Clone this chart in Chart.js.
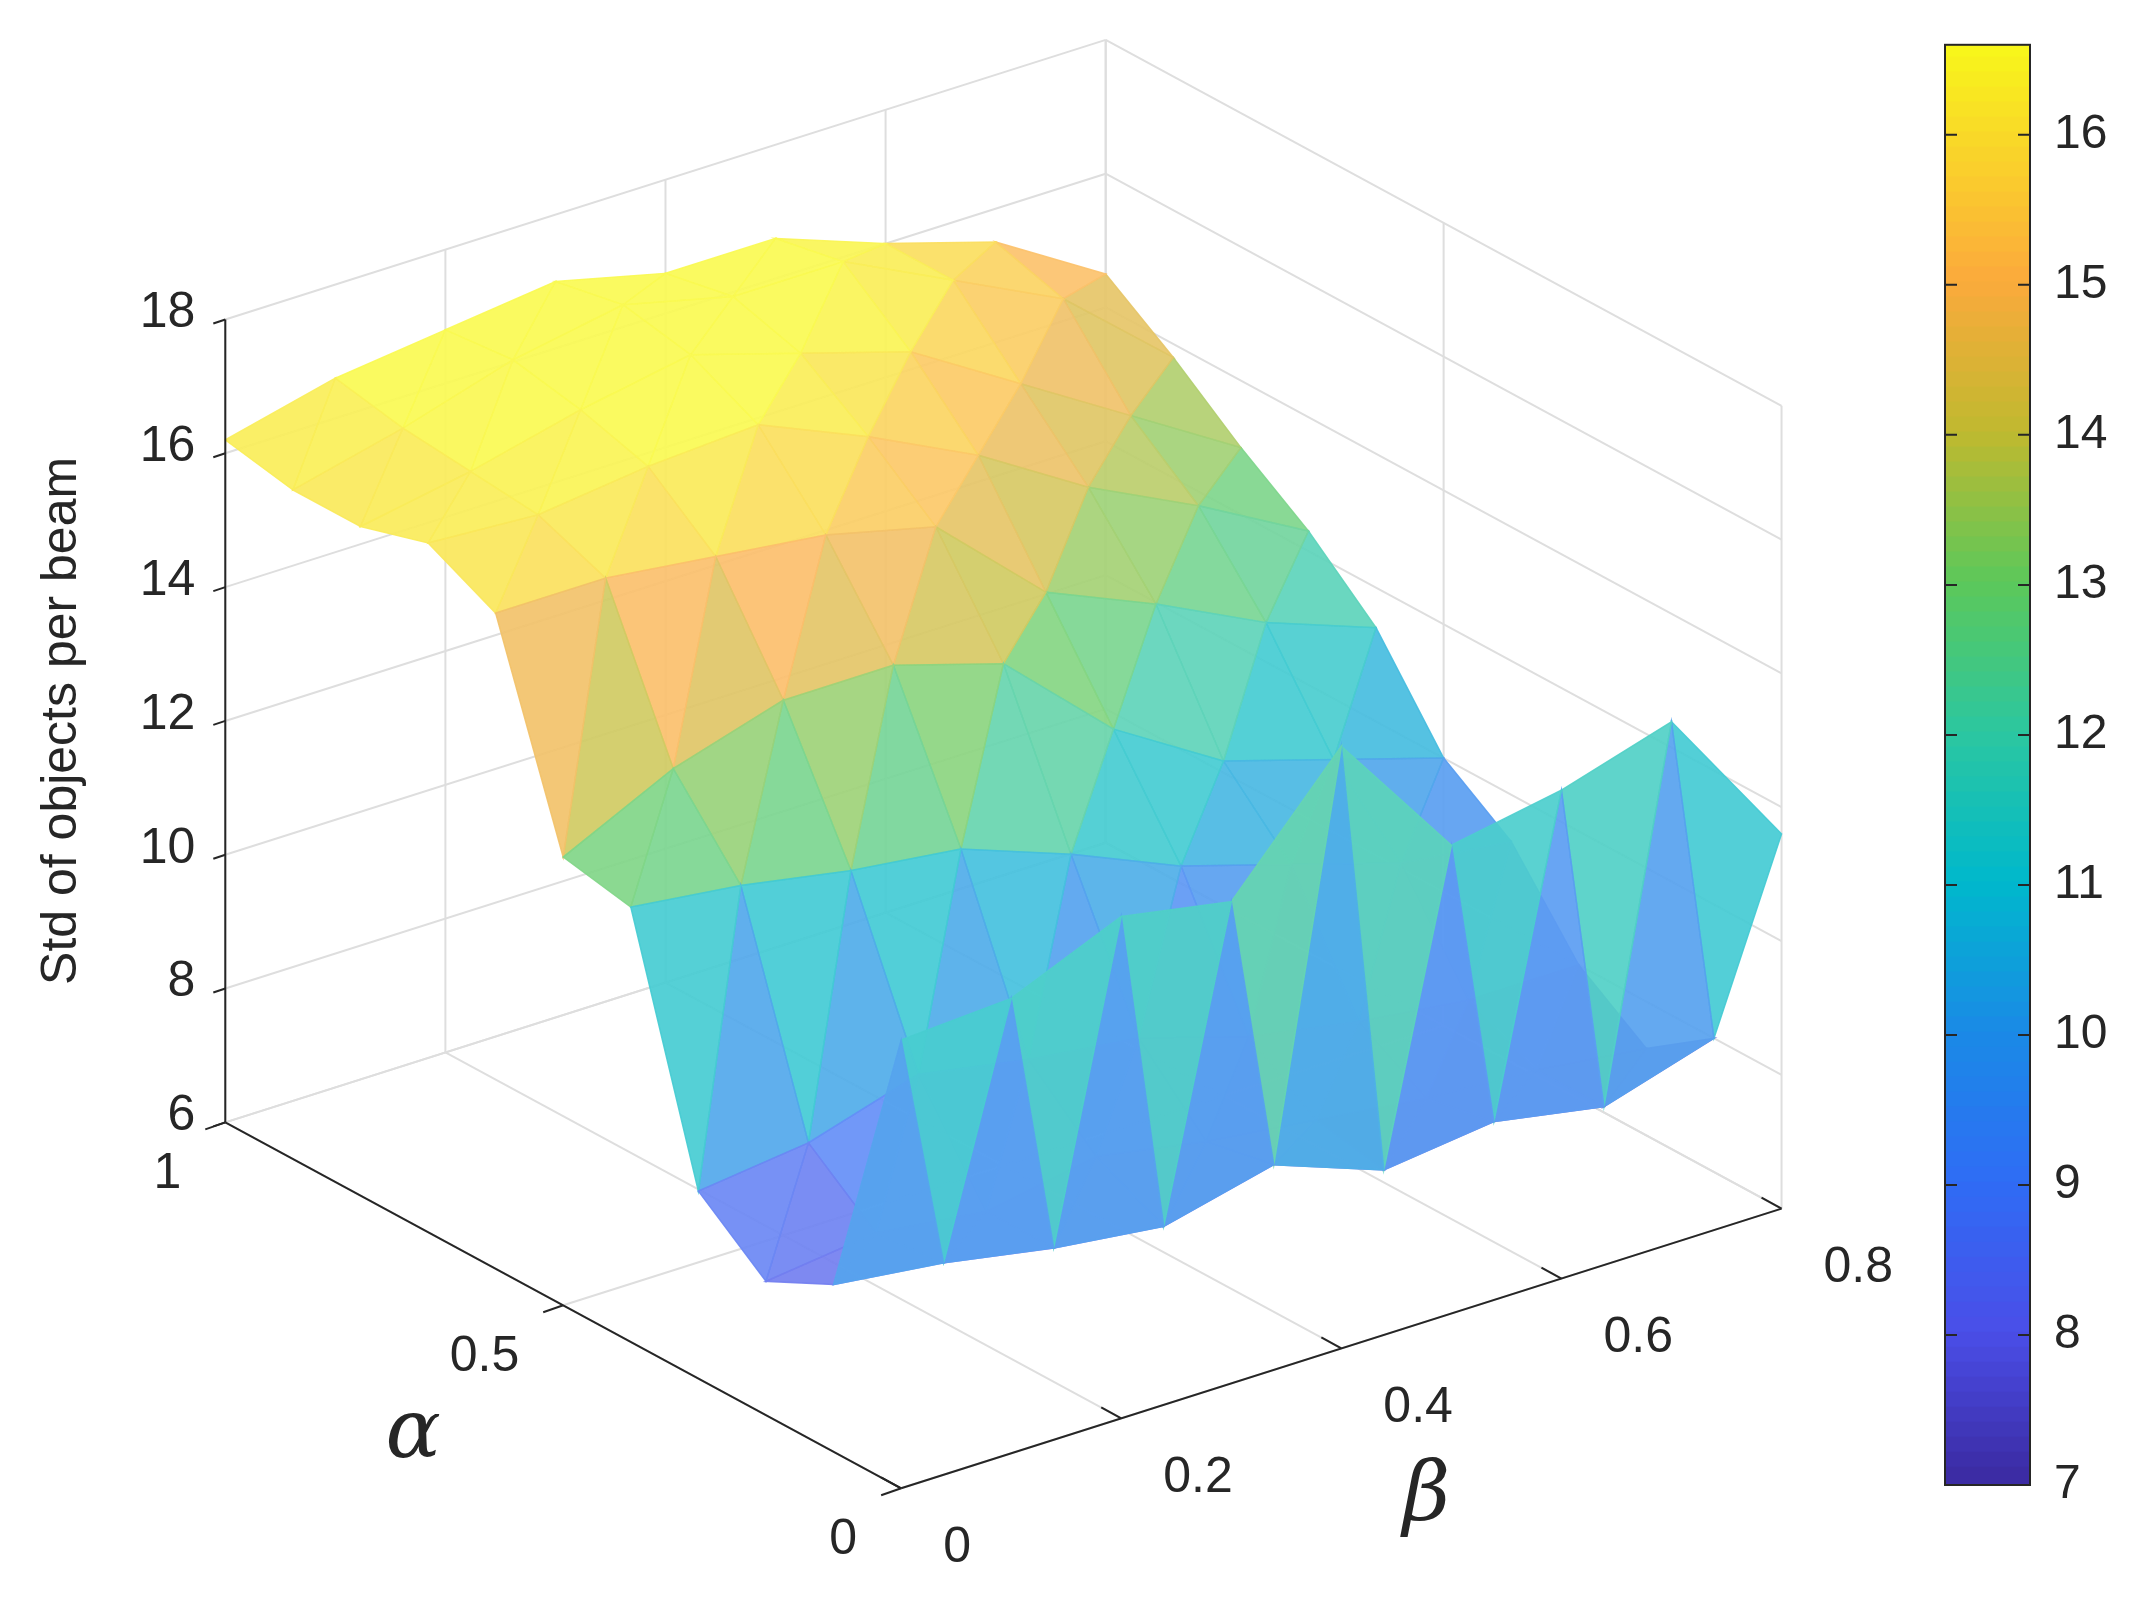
<!DOCTYPE html>
<html>
<head>
<meta charset="utf-8">
<script src="https://cdn.jsdelivr.net/npm/chart.js@4/dist/chart.umd.min.js"></script>
<style>
  body { margin:0; background:#fff; }
  #wrap { position:relative; width:2130px; height:1602px; }
  #main { position:absolute; left:0; top:0; }
  #cbar { position:absolute; left:1880px; top:0; }
</style>
</head>
<body>
<div id="wrap">
  <canvas id="main" width="2130" height="1602"></canvas>
  <canvas id="cbar" width="250" height="1602"></canvas>
</div>
<script>
/* data */
var alphaVals = [0, 0.1, 0.2, 0.3, 0.4, 0.5, 0.6, 0.7, 0.8, 0.9, 1.0];
var betaVals  = [0, 0.1, 0.2, 0.3, 0.4, 0.5, 0.6, 0.7, 0.8];
var zA00 = [12.7, 12.8, 13.5, 13.2, 15.0, 13.0, 13.3, 13.8, 11.6];
var zA01 = [8.5, 8.3, 8.0, 7.8, 8.2, 7.6, 7.8, 7.5, 8.0];
var zA02 = [8.0, 8.2, 8.0, 8.3, 8.0, 7.8, 7.6, 7.5, 7.3];
var zA03 = [8.8, 9.0, 9.5, 9.2, 9.0, 8.5, 8.2, 8.0, 8.0];
var zA04 = [12.5, 12.3, 12.0, 11.8, 11.2, 10.5, 10.0, 9.5, 9.3];
var zA05 = [12.7, 13.5, 14.0, 14.0, 13.5, 12.0, 11.0, 10.5, 10.0];
var zA06 = [15.8, 15.8, 15.6, 15.4, 15.0, 13.5, 12.8, 12.0, 11.4];
var zA07 = [16.3, 16.2, 16.4, 16.5, 15.8, 15.0, 14.0, 13.2, 12.3];
var zA08 = [16.0, 16.3, 16.7, 17.0, 16.5, 16.0, 15.0, 14.0, 13.0];
var zA09 = [16.0, 16.4, 16.9, 17.2, 16.8, 16.8, 16.0, 15.2, 13.8];
var zA10 = [16.2, 16.6, 16.8, 17.0, 16.6, 16.6, 16.0, 15.5, 14.5];
var zRows = [zA00, zA01, zA02, zA03, zA04, zA05, zA06, zA07, zA08, zA09, zA10];
var zTicks = [6, 8, 10, 12, 14, 16, 18];
var alphaTicks = [0, 0.5, 1];
var betaTicks = [0, 0.2, 0.4, 0.6, 0.8];
var cbTicks = [7, 8, 9, 10, 11, 12, 13, 14, 15, 16];
var cbMin = 7, cbMax = 16.6;

/* view */
var S = 2130 / 1560;
var view = { ox:660*S, oy:1090*S, ax:-495*S, ay:-268*S, bx:806*S, by:-256*S, zy:-49*S, z0:6, z1:18, bMax:0.8 };
function proj(a, b, z){
  return { x: view.ox + a*view.ax + b*view.bx, y: view.oy + a*view.ay + b*view.by + (z - view.z0)*view.zy };
}

var stops = [
  [7, [59,42,160]], [8, [74,78,232]], [9, [47,108,245]], [10, [26,138,230]],
  [11, [0,184,204]], [12, [44,199,160]], [13, [92,200,90]], [14, [192,185,47]],
  [15, [251,170,60]], [16.6, [248,248,26]]
];
function cmap(z, light){
  z = Math.max(cbMin, Math.min(cbMax, z));
  var c = stops[stops.length-1][1];
  for (var i = 0; i < stops.length-1; i++){
    if (z <= stops[i+1][0]){
      var t = (z - stops[i][0]) / (stops[i+1][0] - stops[i][0]);
      c = stops[i][1].map(function(v, k){ return v + t*(stops[i+1][1][k] - v); });
      break;
    }
  }
  var l = light || 0;
  return 'rgb(' + c.map(function(v){ return Math.round(v + (255 - v)*l); }).join(',') + ')';
}

/* surface plugin, everything through the chart scales */
var surfacePlugin = {
  id: 'surface',
  beforeDatasetsDraw: function(chart){
    var ctx = chart.ctx, xs = chart.scales.x, ys = chart.scales.y;
    function P(a, b, z){ var p = proj(a, b, z); return [xs.getPixelForValue(p.x), ys.getPixelForValue(p.y)]; }
    function line(p, q, col, w){
      ctx.beginPath(); ctx.moveTo(p[0], p[1]); ctx.lineTo(q[0], q[1]);
      ctx.strokeStyle = col; ctx.lineWidth = w; ctx.stroke();
    }
    ctx.save();
    var g = '#dedede';
    // back walls + floor grid
    zTicks.forEach(function(z){
      line(P(1, 0, z), P(1, view.bMax, z), g, 2);
      line(P(1, view.bMax, z), P(0, view.bMax, z), g, 2);
    });
    betaTicks.forEach(function(b){
      line(P(1, b, view.z0), P(1, b, view.z1), g, 2);
      line(P(0, b, view.z0), P(1, b, view.z0), g, 2);
    });
    alphaTicks.forEach(function(a){
      line(P(a, view.bMax, view.z0), P(a, view.bMax, view.z1), g, 2);
      line(P(a, 0, view.z0), P(a, view.bMax, view.z0), g, 2);
    });

    // surface triangles, far to near
    var tris = [];
    for (var i = 0; i < alphaVals.length-1; i++){
      for (var j = 0; j < betaVals.length-1; j++){
        var v00 = [alphaVals[i], betaVals[j], zRows[i][j]];
        var v01 = [alphaVals[i], betaVals[j+1], zRows[i][j+1]];
        var v10 = [alphaVals[i+1], betaVals[j], zRows[i+1][j]];
        var v11 = [alphaVals[i+1], betaVals[j+1], zRows[i+1][j+1]];
        tris.push([v00, v01, v11], [v00, v11, v10]);
      }
    }
    tris.forEach(function(t){
      t.depth = t.reduce(function(s, v){ return s + v[0] + v[1]/view.bMax; }, 0) / 3;
      t.zm = (t[0][2] + t[1][2] + t[2][2]) / 3;
    });
    tris.sort(function(p, q){ return q.depth - p.depth; });
    tris.forEach(function(t){
      ctx.beginPath();
      t.forEach(function(v, k){ var p = P(v[0], v[1], v[2]); if (k) ctx.lineTo(p[0], p[1]); else ctx.moveTo(p[0], p[1]); });
      ctx.closePath();
      var c = cmap(t.zm, 0.25);
      ctx.fillStyle = c; ctx.strokeStyle = c; ctx.lineWidth = 1.5;
      ctx.globalAlpha = 0.92;
      ctx.fill(); ctx.stroke();
    });
    ctx.globalAlpha = 1;

    // axes
    var k = '#262626';
    line(P(1, 0, view.z0), P(1, 0, view.z1), k, 2);
    line(P(1, 0, view.z0), P(0, 0, view.z0), k, 2);
    line(P(0, 0, view.z0), P(0, view.bMax, view.z0), k, 2);
    ctx.fillStyle = k;
    ctx.font = '50px "Liberation Sans", Arial, sans-serif';
    ctx.textBaseline = 'middle';
    zTicks.forEach(function(z){
      var p = P(1, 0, z);
      line(p, [p[0]-12, p[1]+4], k, 2);
      ctx.textAlign = 'right';
      ctx.fillText(String(z), p[0] - 30, p[1] - 6);
    });
    alphaTicks.forEach(function(a){
      var p = P(a, 0, view.z0);
      line(p, [p[0]-20, p[1]+7], k, 2);
      ctx.textAlign = 'right';
      ctx.fillText(String(a), p[0] - 44, p[1] + 52);
    });
    betaTicks.forEach(function(b){
      var p = P(0, b, view.z0);
      line(p, [p[0]-20, p[1]-11], k, 2);
      ctx.textAlign = 'left';
      ctx.fillText(String(b), p[0] + 42, p[1] + 60);
    });
    // titles
    ctx.save();
    ctx.translate(62, 528*S);
    ctx.rotate(-Math.PI/2);
    ctx.textAlign = 'center';
    ctx.fillText('Std of objects per beam', 0, 0);
    ctx.restore();
    ctx.font = 'italic 82px "DejaVu Serif", "Liberation Serif", serif';
    ctx.textAlign = 'center';
    var pa = P(0.5, 0, view.z0), pb = P(0, 0.4, view.z0);
    ctx.fillText('\u03b1', pa[0] - 150, pa[1] + 130);
    ctx.fillText('\u03b2', pb[0] + 85, pb[1] + 150);
    ctx.restore();
  }
};

new Chart(document.getElementById('main'), {
  type: 'scatter',
  data: { datasets: [{ data: [], pointRadius: 0 }] },
  options: {
    responsive: false, animation: false,
    layout: { padding: 0 },
    plugins: { legend: { display: false }, tooltip: { enabled: false } },
    scales: {
      x: { type: 'linear', min: 0, max: 2130, display: false },
      y: { type: 'linear', min: 0, max: 1602, reverse: true, display: false }
    }
  },
  plugins: [surfacePlugin]
});

/* colorbar */
var nSlices = 96;
var cbSets = [];
for (var i = 0; i < nSlices; i++){
  var lo = cbMin + i*(cbMax - cbMin)/nSlices, hi = cbMin + (i+1)*(cbMax - cbMin)/nSlices;
  cbSets.push({ data: [[lo, hi + 0.02]], backgroundColor: cmap((lo + hi)/2, 0), borderWidth: 0, grouped: false,
    barPercentage: 1, categoryPercentage: 1 });
}
var cbTickPlugin = {
  id: 'cbticks',
  afterDraw: function(chart){
    var ctx = chart.ctx, a = chart.chartArea, ys = chart.scales.y;
    ctx.save();
    ctx.strokeStyle = '#262626'; ctx.lineWidth = 2;
    ctx.strokeRect(a.left, a.top, a.right - a.left, a.bottom - a.top);
    cbTicks.forEach(function(t){
      var y = ys.getPixelForValue(t);
      ctx.beginPath();
      ctx.moveTo(a.left, y); ctx.lineTo(a.left + 12, y);
      ctx.moveTo(a.right, y); ctx.lineTo(a.right - 12, y);
      ctx.stroke();
    });
    ctx.restore();
  }
};
new Chart(document.getElementById('cbar'), {
  type: 'bar',
  data: { labels: [''], datasets: cbSets },
  options: {
    responsive: false, animation: false,
    layout: { padding: { left: 65, top: 41, bottom: 117, right: 0 } },
    plugins: { legend: { display: false }, tooltip: { enabled: false } },
    scales: {
      x: { display: false },
      y: {
        position: 'right', min: cbMin, max: cbMax,
        afterBuildTicks: function(s){ s.ticks = cbTicks.map(function(v){ return { value: v }; }); },
        afterFit: function(s){ s.width = 100; },
        grid: { display: false }, border: { display: false },
        ticks: { color: '#262626', padding: 16, font: { size: 48, family: '"Liberation Sans", Arial, sans-serif' } }
      }
    }
  },
  plugins: [cbTickPlugin]
});
</script>
</body>
</html>
